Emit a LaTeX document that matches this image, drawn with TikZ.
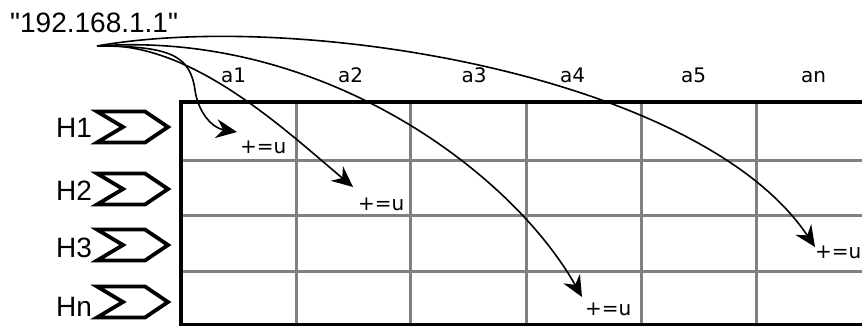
\documentclass[tikz,border=0pt]{standalone}
\usepackage{fontspec}
\setmainfont{DejaVu Sans}
\newfontfamily\bigfont{Liberation Sans}
\usetikzlibrary{arrows.meta}
\definecolor{gridgray}{RGB}{128,128,128}
\tikzset{
  bigtext/.style={font=\bigfont\fontsize{28}{30}\selectfont, inner sep=0pt},
  smalltext/.style={font=\fontsize{20}{22}\selectfont, inner sep=0pt},
  innerline/.style={draw=gridgray, line width=3pt},
  outerline/.style={draw=black, line width=3.5pt},
  chevline/.style={draw=black, line width=3.8pt, miter limit=10},
  flow/.style={line width=1.6pt, -{Stealth[length=21pt,width=19pt,inset=7pt]}},
  chev/.pic={\draw[chevline] (-34,-15.5) -- (14,-15.5) -- (37,0) -- (14,15.5) -- (-34,15.5) -- (-8,0) -- cycle;}
}
\begin{document}
\begin{tikzpicture}[x=1pt,y=-1pt]
\useasboundingbox (0,0) rectangle (862,327);
\begin{scope}
\clip (0,0) rectangle (862,327);
\foreach \x in {296,410.5,526,641.5,756} \draw[innerline] (\x,102) -- (\x,324.5);
\foreach \y in {160,215.5,271} \draw[innerline] (181,\y) -- (870,\y);
\draw[outerline] (870,102) -- (181,102) -- (181,324.5) -- (870,324.5);
\end{scope}

% chevrons
\pic (c1) at (131,127) {chev};
\pic (c2) at (131,189) {chev};
\pic (c3) at (131,245) {chev};
\pic (c4) at (131,302) {chev};

% labels
\node[bigtext, anchor=base west] (ip) at (10,32) {"192.168.1.1"};
\node[bigtext, anchor=base west] (l1) at (56,137) {H1};
\node[bigtext, anchor=base west] (l2) at (56,200) {H2};
\node[bigtext, anchor=base west] (l3) at (56,257) {H3};
\node[bigtext, anchor=base west] (l4) at (56,316) {Hn};

\node[smalltext, anchor=base] (a1) at (233.5,82) {a1};
\node[smalltext, anchor=base] (a2) at (350.5,82) {a2};
\node[smalltext, anchor=base] (a3) at (474,82) {a3};
\node[smalltext, anchor=base] (a4) at (572.5,82) {a4};
\node[smalltext, anchor=base] (a5) at (693.5,82) {a5};
\node[smalltext, anchor=base] (an) at (813.5,82) {an};

\node[smalltext, anchor=base west] (u1) at (240,153) {+=u};
\node[smalltext, anchor=base west] (u2) at (358,210) {+=u};
\node[smalltext, anchor=base west] (u3) at (585,315) {+=u};
\node[smalltext, anchor=base west] (u4) at (815,258) {+=u};

% arrows
\coordinate (src) at (97,46);
\coordinate (t1) at (237,132);
\coordinate (t2) at (353,187);
\coordinate (t3) at (582,297);
\coordinate (t4) at (815,247);
\draw[flow] (src) .. controls (170,46) and (190,55) .. (195,90) .. controls (198,112) and (212,128) .. (t1);
\draw[flow] (src) .. controls (190,40) and (285,130) .. (t2);
\draw[flow] (src) .. controls (320,30) and (510,170) .. (t3);
\draw[flow] (src) .. controls (300,10) and (700,75) .. (t4);
\end{tikzpicture}
\end{document}
